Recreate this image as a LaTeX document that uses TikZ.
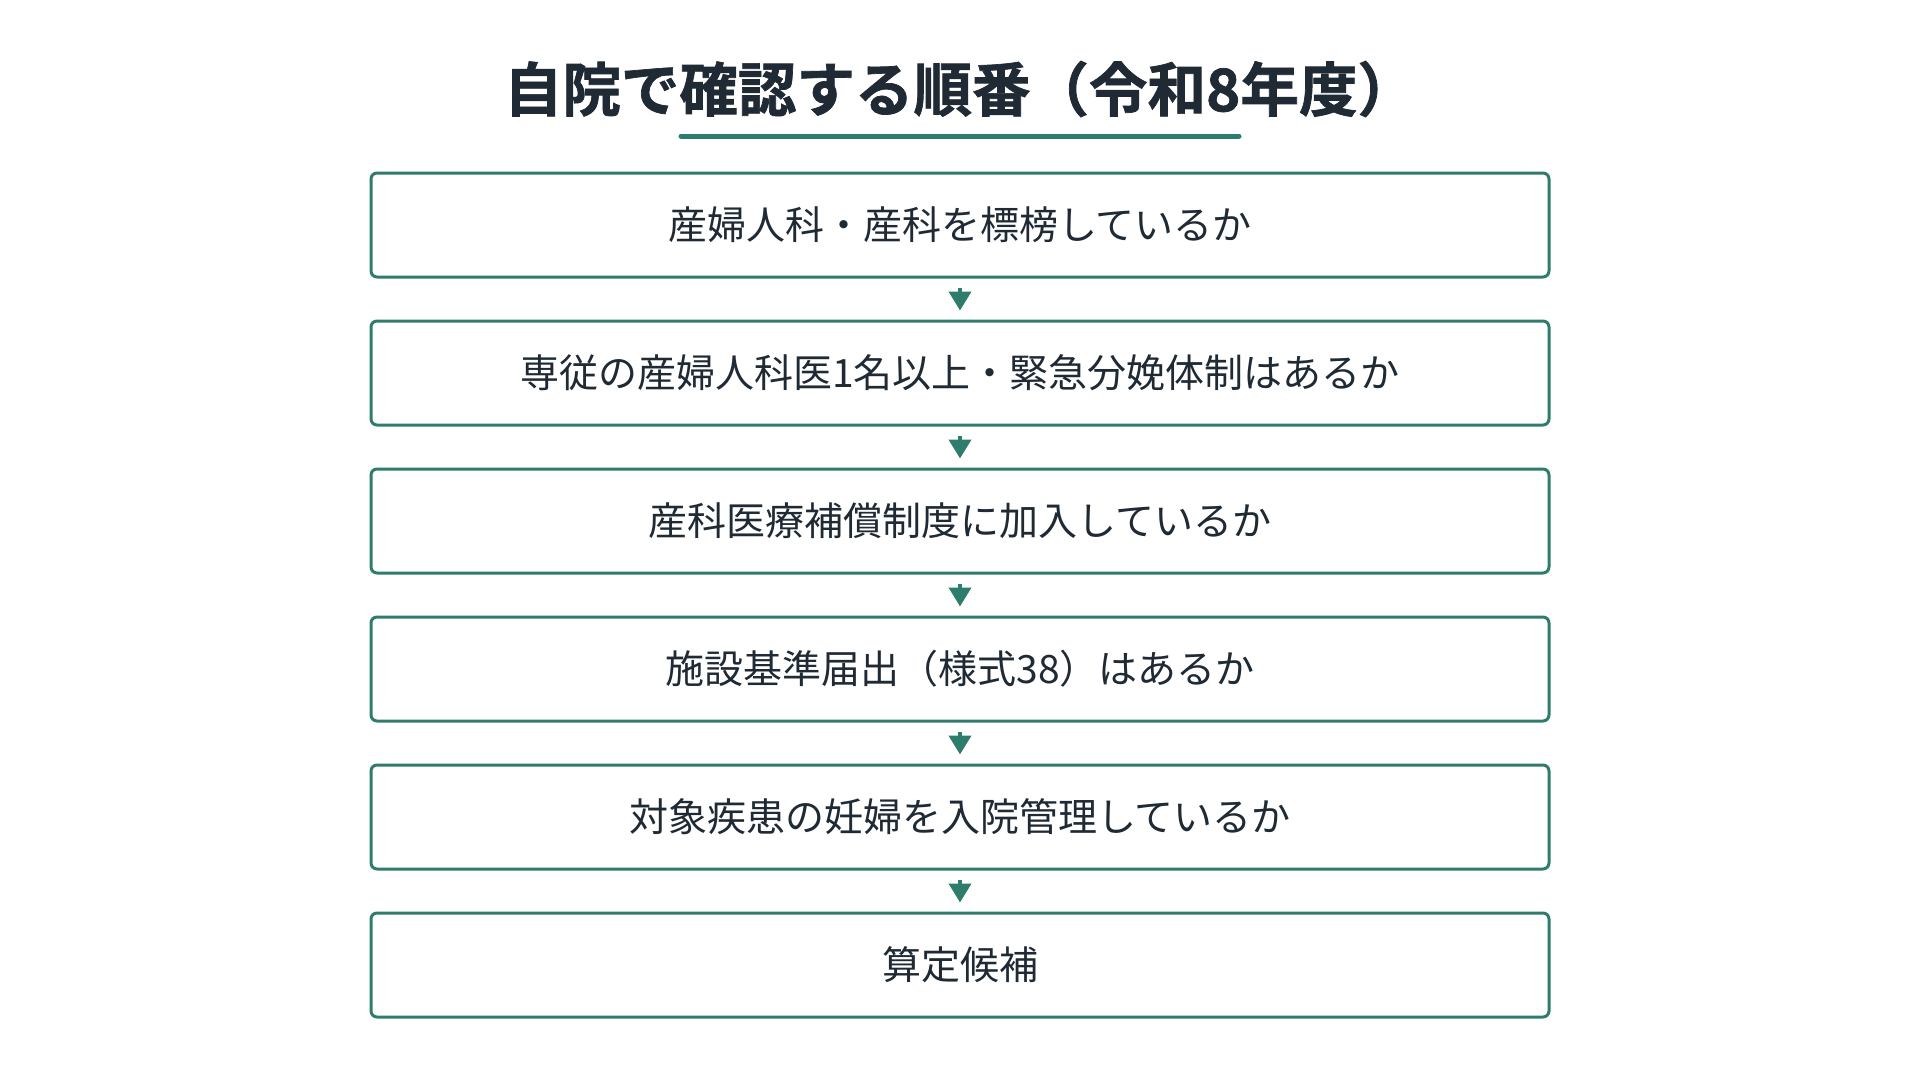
\documentclass[tikz,border=0pt]{standalone}
\usepackage{fontspec}
\setmainfont{Noto Sans CJK JP}
\newfontfamily\jpbold[FakeBold=1.2]{Noto Sans CJK JP Bold}
\usetikzlibrary{arrows.meta}
\definecolor{teal}{HTML}{2E7D6C}
\definecolor{ink}{HTML}{1F2A35}
\tikzset{
  stepbox/.style={draw=teal, line width=3pt, rounded corners=6pt, minimum width=1178pt, minimum height=104pt, inner sep=0pt, text=ink, font=\fontsize{39pt}{46pt}\selectfont},
  flow/.style={draw=teal, line width=4pt, shorten <=9pt, shorten >=9pt, -{Triangle[length=19pt,width=22pt]}},
  titletext/.style={text=ink, font=\jpbold\fontsize{58.5pt}{68pt}\selectfont}
}
\begin{document}
\begin{tikzpicture}[x=1pt,y=-1pt]
\useasboundingbox (0,0) rectangle (1920,1080);
\fill[white] (0,0) rectangle (1920,1080);
\node[titletext] (title) at (960,89) {自院で確認する順番（令和8年度）};
\coordinate (ulA) at (681,136);
\coordinate (ulB) at (1239,136);
\draw[teal, line width=5pt, line cap=round] (ulA) -- (ulB);
\node[stepbox] (s1) at (960,225) {産婦人科・産科を標榜しているか};
\node[stepbox] (s2) at (960,373) {専従の産婦人科医1名以上・緊急分娩体制はあるか};
\node[stepbox] (s3) at (960,521) {産科医療補償制度に加入しているか};
\node[stepbox] (s4) at (960,669) {施設基準届出（様式38）はあるか};
\node[stepbox] (s5) at (960,817) {対象疾患の妊婦を入院管理しているか};
\node[stepbox] (s6) at (960,965) {算定候補};
\draw[flow] (s1) -- (s2);
\draw[flow] (s2) -- (s3);
\draw[flow] (s3) -- (s4);
\draw[flow] (s4) -- (s5);
\draw[flow] (s5) -- (s6);
\end{tikzpicture}
\end{document}
